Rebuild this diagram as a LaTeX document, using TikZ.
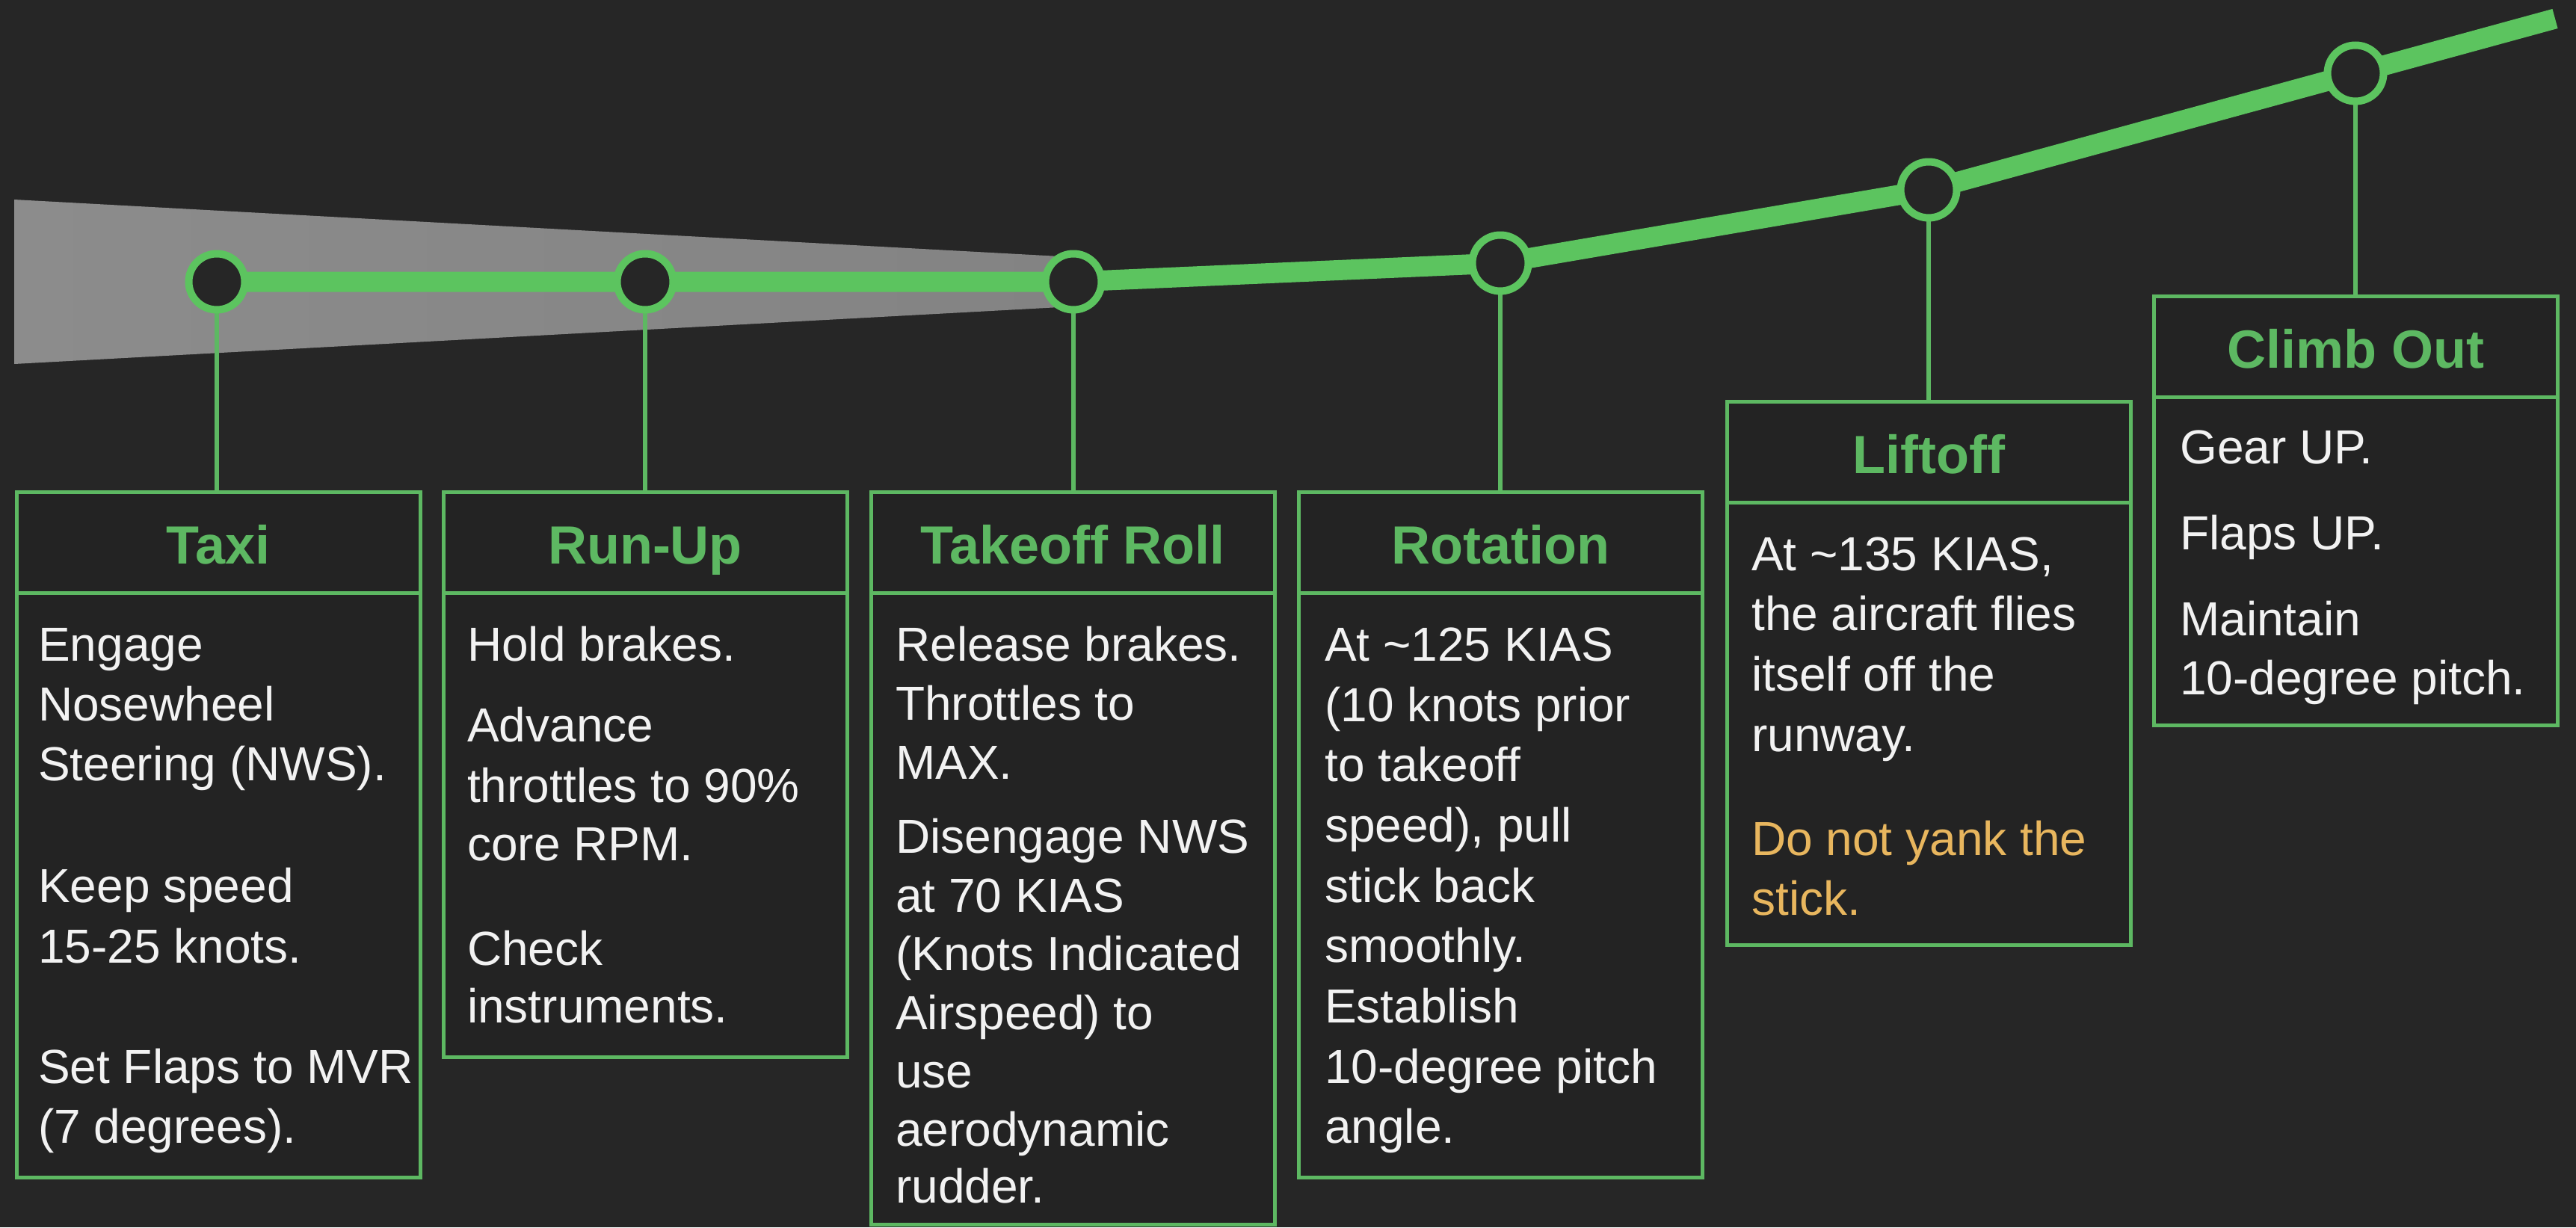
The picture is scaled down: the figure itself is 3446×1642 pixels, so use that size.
\documentclass[tikz,border=0pt]{standalone}
\usepackage{fontspec}
\setmainfont{Liberation Sans}
\definecolor{bg}{HTML}{262626}
\definecolor{panelbg}{HTML}{232323}
\definecolor{track}{HTML}{5CC45F}
\definecolor{frame}{HTML}{5DB862}
\definecolor{headtxt}{HTML}{5DB862}
\definecolor{bodytxt}{HTML}{F2F2F2}
\definecolor{warn}{HTML}{E8B65E}
\definecolor{wedgeL}{HTML}{8C8C8C}
\definecolor{wedgeR}{HTML}{838383}

\begin{document}
\begin{tikzpicture}[x=1pt,y=-1pt,
  stop/.style={circle, draw=track, line width=10pt, fill=bg, minimum size=75pt, inner sep=0pt, outer sep=0pt},
  stem/.style={draw=frame, line width=6pt},
  head/.style={draw=frame, line width=5pt, fill=panelbg, anchor=north west, minimum width=540pt,
    minimum height=135pt, inner sep=0pt, outer sep=0pt, text height=58pt, text depth=0pt,
    text=headtxt, font=\fontsize{72}{86}\selectfont\bfseries},
  panel/.style={draw=frame, line width=5pt, fill=panelbg, anchor=north west, minimum width=540pt,
    inner sep=0pt, outer sep=0pt},
  txtline/.style={anchor=base west, inner sep=0pt, text=bodytxt, font=\fontsize{64}{80}\selectfont},
  warnline/.style={txtline, text=warn},
]
% canvas
\fill[bg] (0,0) rectangle (3446,1642);
\useasboundingbox (0,0) rectangle (3446,1642);

% milestone positions along the flight path
\coordinate (p1) at (290,377);
\coordinate (p2) at (863,377);
\coordinate (p3) at (1436,377);
\coordinate (p4) at (2007,352);
\coordinate (p5) at (2580,254);
\coordinate (p6) at (3151,98);
\coordinate (pend) at (3418,25);

% runway wedge
\shade[left color=wedgeL, right color=wedgeR] (19,267) -- (1436,344) -- (1436,410) -- (19,487) -- cycle;

% flight path
\draw[track, line width=27pt] (p1) -- (p2) -- (p3) -- (p4) -- (p5) -- (p6) -- (pend);

% phase panels: header + body
\node[head] (h1) at (22,658) {Taxi};
\node[panel, minimum height=782pt] (b1) at (h1.south west) {};
\node[head] (h2) at (593,658) {Run-Up};
\node[panel, minimum height=621pt] (b2) at (h2.south west) {};
\node[head] (h3) at (1165,658) {Takeoff Roll};
\node[panel, minimum height=845pt] (b3) at (h3.south west) {};
\node[head] (h4) at (1737,658) {Rotation};
\node[panel, minimum height=782pt] (b4) at (h4.south west) {};
\node[head] (h5) at (2310,537) {Liftoff};
\node[panel, minimum height=592pt] (b5) at (h5.south west) {};
\node[head] (h6) at (2881,396) {Climb Out};
\node[panel, minimum height=439pt] (b6) at (h6.south west) {};

% stems from milestones to panels
\foreach \i in {1,...,6}
  \draw[stem] (p\i) -- (p\i |- h\i.north);

% milestone markers
\foreach \i in {1,...,6}
  \node[stop] (n\i) at (p\i) {};

% panel texts
\foreach \yy/\msg [count=\k] in {884/{Engage}, 964/{Nosewheel}, 1044/{Steering (NWS).},
    1207/{Keep speed}, 1288/{15-25 knots.}, 1449/{Set Flaps to MVR}, 1529/{(7 degrees).}}
  \node[txtline] (ta-\k) at (51,\yy) {\msg};

\foreach \yy/\msg [count=\k] in {884/{Hold brakes.}, 992/{Advance}, 1073/{throttles to 90\%},
    1151/{core RPM.}, 1291/{Check}, 1368/{instruments.}}
  \node[txtline] (ru-\k) at (625,\yy) {\msg};

\foreach \yy/\msg [count=\k] in {884/{Release brakes.}, 963/{Throttles to}, 1042/{MAX.},
    1141/{Disengage NWS}, 1220/{at 70 KIAS}, 1298/{(Knots Indicated}, 1377/{Airspeed) to},
    1455/{use}, 1533/{aerodynamic}, 1609/{rudder.}}
  \node[txtline] (tr-\k) at (1198,\yy) {\msg};

\foreach \yy/\msg [count=\k] in {884/{At \textasciitilde125 KIAS}, 965/{(10 knots prior},
    1045/{to takeoff}, 1126/{speed), pull}, 1207/{stick back}, 1287/{smoothly.},
    1368/{Establish}, 1449/{10-degree pitch}, 1529/{angle.}}
  \node[txtline] (ro-\k) at (1772,\yy) {\msg};

\foreach \yy/\msg [count=\k] in {763/{At \textasciitilde135 KIAS,}, 843/{the aircraft flies},
    924/{itself off the}, 1005/{runway.}}
  \node[txtline] (lo-\k) at (2343,\yy) {\msg};
\node[warnline] (lo-w1) at (2343,1144) {Do not yank the};
\node[warnline] (lo-w2) at (2343,1224) {stick.};

\foreach \yy/\msg [count=\k] in {620/{Gear UP.}, 735/{Flaps UP.}, 850/{Maintain},
    929/{10-degree pitch.}}
  \node[txtline] (co-\k) at (2916,\yy) {\msg};
\end{tikzpicture}
\end{document}
